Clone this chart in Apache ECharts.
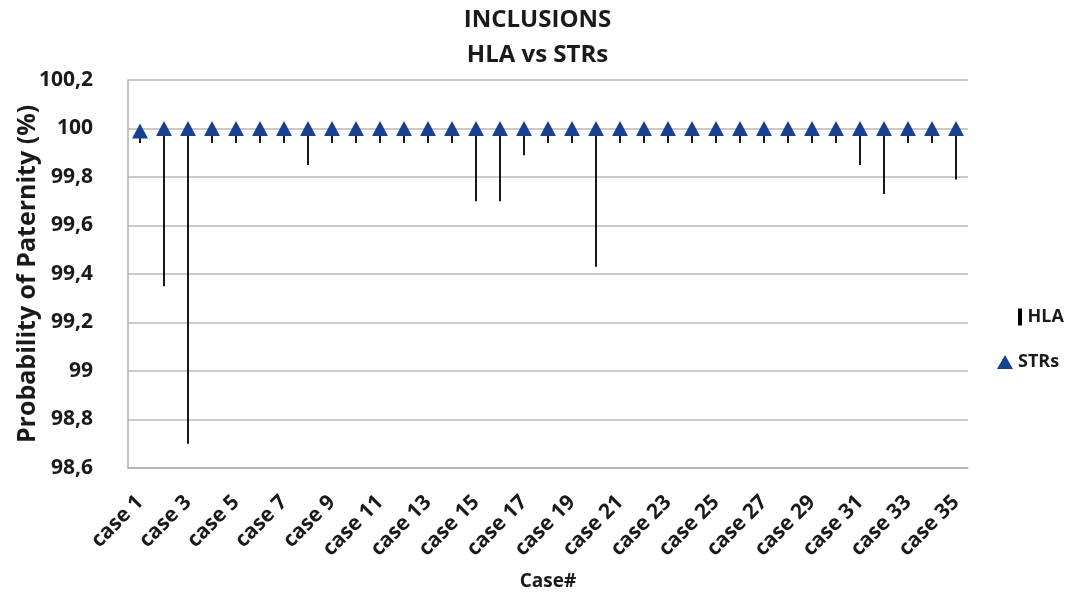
<!DOCTYPE html>
<html>
<head>
<meta charset="utf-8">
<script src="https://cdn.jsdelivr.net/npm/echarts@6/dist/echarts.min.js"></script>
<style>
html,body{margin:0;padding:0;background:#fff;}
#chart{width:1075px;height:596px;}
</style>
</head>
<body>
<div id="chart"></div>
<script>
const categories = ['case 1','case 2','case 3','case 4','case 5','case 6','case 7','case 8','case 9','case 10',
  'case 11','case 12','case 13','case 14','case 15','case 16','case 17','case 18','case 19','case 20',
  'case 21','case 22','case 23','case 24','case 25','case 26','case 27','case 28','case 29','case 30',
  'case 31','case 32','case 33','case 34','case 35'];
// HLA: low end of the vertical line (top end at HLA_HIGH)
const HLA_HIGH = 100;
const hlaValues = [99.94, 99.35, 98.70, 99.94, 99.94, 99.94, 99.94, 99.85, 99.94, 99.94,
  99.94, 99.94, 99.94, 99.94, 99.70, 99.70, 99.89, 99.94, 99.94, 99.43,
  99.94, 99.94, 99.94, 99.94, 99.94, 99.94, 99.94, 99.94, 99.94, 99.94,
  99.85, 99.73, 99.94, 99.94, 99.79];
const strValues = [99.99, 100, 100, 100, 100, 100, 100, 100, 100, 100,
  100, 100, 100, 100, 100, 100, 100, 100, 100, 100,
  100, 100, 100, 100, 100, 100, 100, 100, 100, 100,
  100, 100, 100, 100, 100];

const FONT = '"Open Sans", "Noto Sans", sans-serif';
const TXT = '#1a1a1a';
const BLUE = '#17418f';
const titleStyle = { fontFamily: FONT, fontWeight: 'bold', fontSize: 24, color: TXT };
const chart = echarts.init(document.getElementById('chart'));
chart.setOption({
  animation: false,
  backgroundColor: '#ffffff',
  title: [{
    text: 'INCLUSIONS', left: 'center', top: 3, textStyle: titleStyle
  }, {
    text: 'HLA vs STRs', left: 'center', top: 38, textStyle: titleStyle
  }],
  legend: [{
    data: [{ name: 'HLA', icon: 'path://M0,0H4V17H0Z' }],
    orient: 'vertical', left: 1013, top: 303,
    itemWidth: 5, itemHeight: 17, itemGap: 6,
    textStyle: { fontFamily: FONT, fontWeight: 'bold', fontSize: 18, color: TXT }
  }, {
    data: [{ name: 'STRs', icon: 'triangle', itemStyle: { color: BLUE, opacity: 1 } }],
    orient: 'vertical', left: 992, top: 348,
    itemWidth: 16, itemHeight: 14, itemGap: 4,
    textStyle: { fontFamily: FONT, fontWeight: 'bold', fontSize: 18, color: TXT }
  }],
  grid: { left: 128, right: 107, top: 80, bottom: 128, containLabel: false },
  xAxis: {
    type: 'category',
    data: categories,
    boundaryGap: true,
    name: 'Case#',
    nameLocation: 'middle',
    nameGap: 104,
    nameMoveOverlap: false,
    nameTextStyle: { fontFamily: FONT, fontWeight: 'bold', fontSize: 19, color: TXT },
    axisLine: { show: true, lineStyle: { color: '#b0b0b0', width: 1.5 } },
    axisTick: { show: false },
    axisLabel: {
      interval: 1, rotate: 45, margin: 31,
      fontFamily: FONT, fontWeight: 'bold', fontSize: 21, color: TXT
    },
    splitLine: { show: false }
  },
  yAxis: {
    type: 'value',
    min: 98.6, max: 100.2, interval: 0.2,
    name: 'Probability of Paternity (%)',
    nameLocation: 'middle',
    nameGap: 88,
    nameMoveOverlap: false,
    nameTextStyle: { fontFamily: FONT, fontWeight: 'bold', fontSize: 25, color: TXT },
    axisLine: { show: true, lineStyle: { color: '#b0b0b0', width: 1.5 } },
    axisTick: { show: false },
    axisLabel: {
      margin: 35,
      fontFamily: FONT, fontWeight: 'bold', fontSize: 21, color: TXT,
      formatter: function (v) {
        const r = Math.round(v * 10) / 10;
        return String(r).replace('.', ',');
      }
    },
    splitLine: { show: true, lineStyle: { color: '#b8b8b8', width: 1.5 } }
  },
  series: [{
    name: 'HLA',
    type: 'custom',
    itemStyle: { color: '#000000' },
    renderItem: function (params, api) {
      const x = api.value(0);
      const top = api.coord([x, HLA_HIGH]);
      const bot = api.coord([x, api.value(1)]);
      return {
        type: 'line',
        shape: { x1: top[0], y1: top[1], x2: bot[0], y2: bot[1] },
        style: { stroke: '#000000', lineWidth: 1.8 }
      };
    },
    data: hlaValues.map((v, i) => [i, v]),
    z: 2
  }, {
    name: 'STRs',
    type: 'scatter',
    symbol: 'triangle',
    symbolSize: [16, 15],
    itemStyle: { color: BLUE, opacity: 1 },
    data: strValues.map((v, i) => [i, v]),
    z: 3
  }]
});
</script>
</body>
</html>
